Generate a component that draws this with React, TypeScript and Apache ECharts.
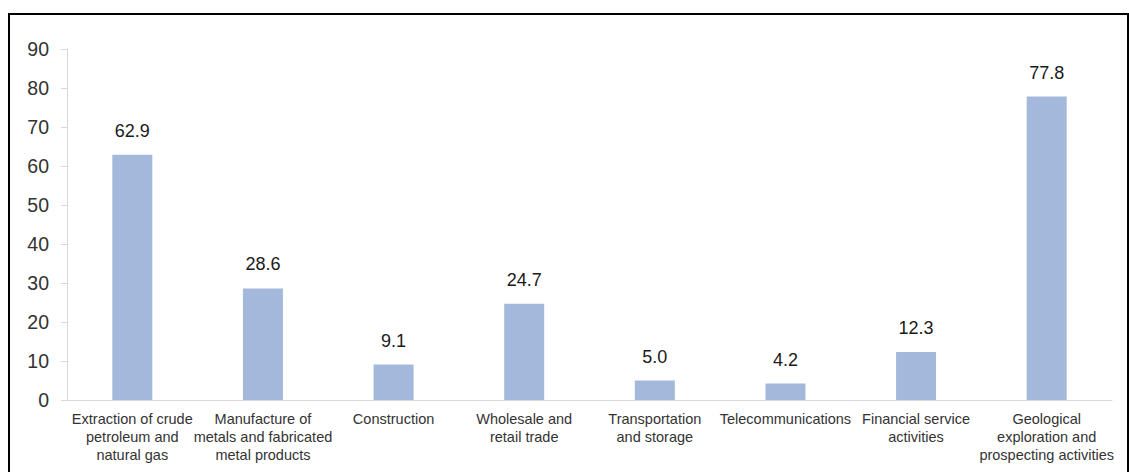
import React, { useEffect, useRef } from "react";
import * as echarts from "echarts";

const categories = [
  "Extraction of crude\npetroleum and\nnatural gas",
  "Manufacture of\nmetals and fabricated\nmetal products",
  "Construction",
  "Wholesale and\nretail trade",
  "Transportation\nand storage",
  "Telecommunications",
  "Financial service\nactivities",
  "Geological\nexploration and\nprospecting activities",
];
const values = [62.9, 28.6, 9.1, 24.7, 5.0, 4.2, 12.3, 77.8];
const yMin = 0;
const yMax = 90;
const yInterval = 10;

export default function App() {
  const ref = useRef<HTMLDivElement>(null);
  useEffect(() => {
    if (!ref.current) return;
    const chart = echarts.init(ref.current, null, { renderer: "svg" });
    chart.setOption({
      animation: false,
      textStyle: { fontFamily: "Liberation Sans, Arial, sans-serif" },
      grid: { left: 67, right: 17, top: 49, bottom: 72, containLabel: false },
      xAxis: {
        type: "category",
        data: categories,
        axisLine: { show: true, lineStyle: { color: "#d9d9d9", width: 1 } },
        axisTick: { show: false },
        axisLabel: {
          interval: 0,
          color: "#333333",
          fontSize: 14.5,
          lineHeight: 18,
          margin: 10,
          fontFamily: "Liberation Sans, Arial, sans-serif",
        },
      },
      yAxis: {
        type: "value",
        min: yMin,
        max: yMax,
        interval: yInterval,
        splitLine: { show: false },
        axisLine: { show: true, lineStyle: { color: "#d9d9d9", width: 1 } },
        axisTick: { show: true, length: 6, lineStyle: { color: "#d9d9d9" } },
        axisLabel: {
          color: "#333333",
          fontSize: 19.5,
          margin: 18,
          fontFamily: "Liberation Sans, Arial, sans-serif",
        },
      },
      series: [
        {
          type: "bar",
          data: values,
          barWidth: 40,
          itemStyle: { color: "#a3b8da" },
          label: {
            show: true,
            position: "top",
            distance: 15,
            color: "#1a1a1a",
            fontSize: 18,
            fontFamily: "Liberation Sans, Arial, sans-serif",
            formatter: (p: any) => Number(p.value).toFixed(1),
          },
        },
      ],
    });
    return () => chart.dispose();
  }, []);
  return (
    <div style={{ position: "absolute", left: 0, top: 0, width: 1129, height: 472, background: "#fff" }}>
      <div ref={ref} style={{ position: "absolute", left: 0, top: 0, width: 1129, height: 472 }} />
      <div
        style={{
          position: "absolute",
          left: 8,
          top: 13,
          width: 1121,
          height: 480,
          borderTop: "2px solid #000",
          borderLeft: "2px solid #000",
          borderRight: "2px solid #000",
          boxSizing: "border-box",
          pointerEvents: "none",
        }}
      />
    </div>
  );
}
